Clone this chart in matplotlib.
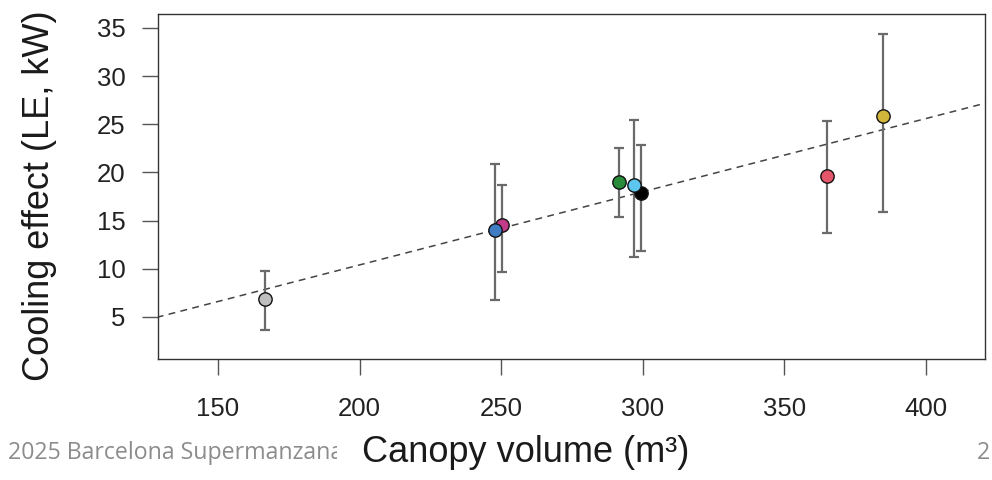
import numpy as np
import matplotlib.pyplot as plt
from matplotlib.patches import Rectangle

plt.rcParams['font.family'] = ['Liberation Sans', 'DejaVu Sans']

# canopy volume (m3) and cooling effect (kW) per tree, with error bar ends
volume = np.array([166.6, 250.2, 247.9, 291.4, 299.5, 296.7, 364.9, 384.7])
cooling = np.array([6.9, 14.5, 14.0, 19.0, 17.9, 18.7, 19.6, 25.9])
err_low = np.array([3.6, 9.7, 6.8, 15.4, 11.8, 11.2, 13.7, 15.9])
err_high = np.array([9.8, 18.7, 20.9, 22.5, 22.8, 25.4, 25.3, 34.4])
colors = ['#bebebe', '#c23b88', '#3f7cc2', '#2a8b3b', '#000000', '#5cc6ef',
          '#e6566b', '#d2b63c']

# fitted line y = a + b*x
fit_a = -4.8
fit_b = 0.076

xticks = [150, 200, 250, 300, 350, 400]
yticks = [5, 10, 15, 20, 25, 30, 35]

fig = plt.figure(figsize=(9.92, 4.8), dpi=100)
ax = fig.add_axes([158/992, 1-359/480, 827/992, 345/480])

xx = np.array([120, 430])
ax.plot(xx, fit_a + fit_b*xx, ls=(0, (4.5, 3.5)), color='#444444', lw=1.1, zorder=1)

yerr = np.vstack([cooling - err_low, err_high - cooling])
ax.errorbar(volume, cooling, yerr=yerr, fmt='none', ecolor='#6a6a6a',
            elinewidth=1.6, capsize=3.8, capthick=1.6, zorder=2)
for x, y, c in zip(volume, cooling, colors):
    ax.plot(x, y, 'o', ms=9.6, mfc=c, mec='#111111', mew=1.0, zorder=3)

ax.set_xlim(128.8, 420.8)
ax.set_ylim(0.63, 36.45)
ax.set_xticks(xticks)
ax.set_yticks(yticks)
ax.tick_params(axis='x', length=11.5, width=1, color='#555555', pad=16, labelsize=18.5,
               labelcolor='#222222')
ax.tick_params(axis='y', length=11.5, width=1, color='#555555', pad=12, labelsize=18.5,
               labelcolor='#222222')
for s in ax.spines.values():
    s.set_color('#333333')
    s.set_linewidth(1.0)

fig.text(40/992, 1-196/480, 'Cooling effect (LE, kW)', rotation=90, ha='center',
         va='center', fontsize=26, color='#1a1a1a')
fig.text(526/992, 1-452/480, 'Canopy volume (m³)', ha='center', va='center',
         fontsize=26, color='#1a1a1a')

fig.text(8/992, 1-453/480, '2025 Barcelona Supermanzana', ha='left', va='center',
         fontsize=16.7, color='#8c8c8c', family=['Open Sans', 'DejaVu Sans'], zorder=1)
fig.text(977/992, 1-453/480, '2', ha='left', va='center',
         fontsize=16.7, color='#8c8c8c', family=['Open Sans', 'DejaVu Sans'], zorder=1)
fig.patches.append(Rectangle((337/992, 0.0), 25/992, 50/480, transform=fig.transFigure,
                             facecolor='white', edgecolor='none', zorder=2))

fig.savefig('out.png', dpi=100)
